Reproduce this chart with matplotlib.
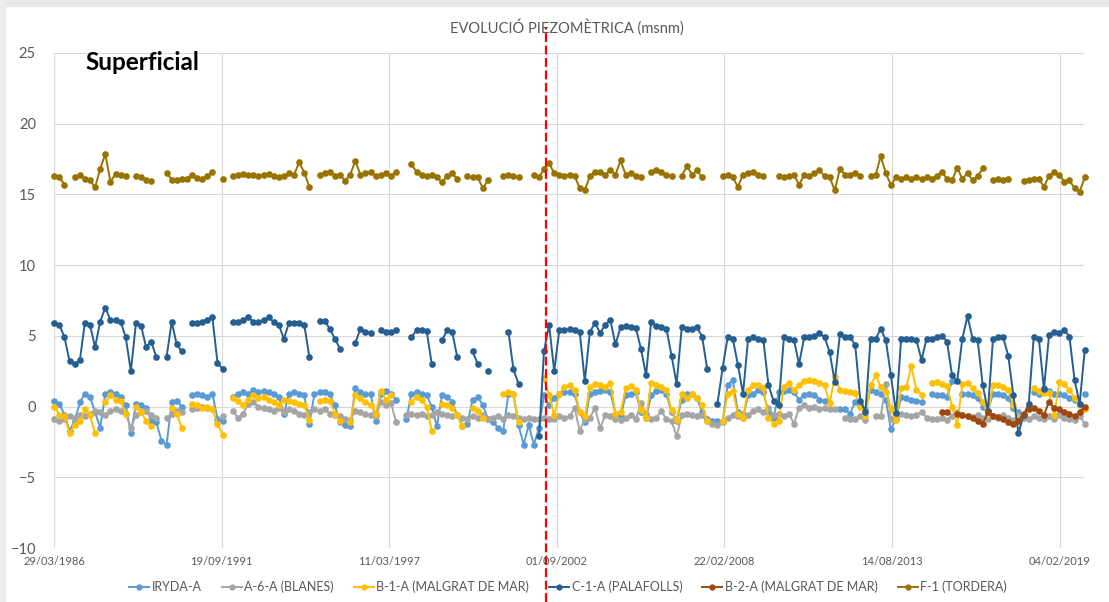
import numpy as np
import pandas as pd
import matplotlib
matplotlib.use("Agg")
import matplotlib.pyplot as plt
from matplotlib.lines import Line2D
from matplotlib.patches import Rectangle

plt.rcParams["font.family"] = ["Lato", "DejaVu Sans"]

nan = np.nan

# bi-monthly readings (Feb, Apr, Jun, Aug, Oct, Dec), one row per year 1986-2019
months = [2, 4, 6, 8, 10, 12]
years = list(range(1986, 2020))

iryda_a = [
    [nan, 0.4, 0.2, -0.6, -1.7, -1.0],
    [0.3, 0.9, 0.7, -0.4, -1.5, 0.9],
    [1.0, 0.9, 0.7, 0.1, -1.9, 0.2],
    [0.1, -0.1, -1.0, -1.1, -2.4, -2.7],
    [0.3, 0.4, 0.0, nan, 0.8, 0.9],
    [0.8, 0.7, 0.9, -0.85, -1.05, nan],
    [0.7, 0.9, 1.0, 0.9, 1.15, 1.0],
    [1.1, 1.0, 0.9, 0.7, -0.5, 0.9],
    [1.0, 0.9, 0.8, -1.2, 0.9, 1.0],
    [1.0, 0.9, 0.1, -1.1, -1.3, -1.4],
    [1.3, 1.0, 0.9, 0.9, -1.0, 0.9],
    [1.1, 0.9, 0.5, nan, -0.9, 0.9],
    [1.0, 0.9, 0.8, 0.0, -1.4, 0.8],
    [0.7, 0.35, -0.6, -1.4, -1.2, 0.5],
    [0.7, 0.1, -0.85, -1.1, -1.5, -1.7],
    [0.9, 0.9, -1.3, -2.7, -1.3, -2.7],
    [-1.5, 0.8, 0.1, 0.6, 0.9, 1.0],
    [1.0, 0.9, -0.4, -1.1, 0.9, 1.0],
    [1.1, 1.2, 1.0, -0.5, -0.7, 0.8],
    [0.9, 1.0, -0.4, -0.8, 0.8, 1.1],
    [1.2, 0.9, -0.4, -1.0, 0.5, 0.9],
    [0.9, 0.6, -0.4, -0.85, -1.0, -1.05],
    [-1.0, 1.5, 1.9, -0.4, -0.8, 0.8],
    [0.9, 1.2, 1.0, -0.4, -0.8, 1.0],
    [1.1, 1.2, 1.0, 0.5, 0.8, 0.9],
    [0.8, 0.5, 0.4, nan, nan, -0.2],
    [-0.2, -0.5, 0.35, 0.2, -0.2, 1.2],
    [1.0, 0.9, 0.45, -1.6, -0.9, 0.7],
    [0.6, 0.5, 0.4, 0.35, nan, 0.9],
    [0.8, 0.8, 0.7, 1.8, nan, 0.9],
    [0.9, 0.8, 0.6, 0.0, -0.3, 0.9],
    [0.9, 0.8, 0.6, -0.1, -0.35, nan],
    [nan, 1.0, 0.9, 1.3, 1.1, 0.9],
    [0.9, 0.8, 0.6, 0.45, nan, 0.9],
]

a6a_blanes = [
    [nan, -0.9, -1.0, -0.9, -0.7, -0.8],
    [-0.6, -0.7, -0.5, -0.3, -0.4, -0.6],
    [-0.3, -0.2, -0.3, -0.5, -1.5, -0.6],
    [-0.4, -0.3, -0.6, -0.8, nan, -0.8],
    [-0.5, -0.3, -0.4, nan, -0.2, -0.1],
    [0.0, -0.1, -0.2, nan, -0.7, nan],
    [-0.3, -0.8, -0.5, 0.2, 0.3, 0.0],
    [-0.1, -0.2, -0.3, -0.1, -0.4, -0.2],
    [-0.3, -0.5, -0.6, -0.4, -0.2, -0.3],
    [-0.2, -0.5, -0.6, -0.7, -0.9, -0.95],
    [-0.3, -0.4, -0.5, -0.6, -0.7, 0.3],
    [0.1, 0.25, -1.1, nan, -0.6, -0.5],
    [-0.6, -0.5, -0.7, -0.6, -0.4, -0.5],
    [-0.6, -0.7, -0.6, -0.8, -0.9, -0.7],
    [-0.8, -0.6, -0.9, -0.8, -0.7, -0.9],
    [-0.6, -0.7, -0.8, -0.9, -0.8, -0.9],
    [-0.9, -0.8, -0.85, -0.9, -0.7, -0.8],
    [-0.7, -0.1, -1.7, -0.9, -0.8, -0.1],
    [-1.5, -0.6, -0.7, -0.9, -0.95, -0.8],
    [-0.6, -0.9, 0.25, -0.5, -0.9, -0.8],
    [-0.3, -0.9, -1.0, -2.1, -0.6, -0.5],
    [-0.6, -0.7, -0.6, -1.0, -1.2, -1.3],
    [-1.1, -0.8, -0.6, -0.7, -0.5, -0.6],
    [-0.3, -0.2, -0.4, -0.1, -0.6, -0.5],
    [-0.7, -0.5, -1.2, -0.1, 0.1, -0.1],
    [0.0, -0.2, -0.1, -0.2, -0.15, nan],
    [-0.8, -0.9, -0.85, -0.7, -0.95, nan],
    [-0.7, -0.7, 1.6, -0.85, -0.85, -0.5],
    [-0.6, -0.7, -0.6, -0.35, -0.8, -0.9],
    [-0.9, -0.8, -0.95, -0.7, -0.4, -0.6],
    [-0.7, -0.75, -0.6, -0.8, -0.9, -0.7],
    [-0.8, -0.6, -0.8, -0.95, -0.7, -0.8],
    [-0.9, -0.7, -0.8, -0.85, -0.7, -0.9],
    [-0.6, -0.8, -0.9, -0.95, -0.7, -1.2],
]

b1a_malgrat = [
    [nan, 0.0, -0.6, -0.7, -1.9, -1.3],
    [-1.0, -0.2, -0.6, -1.9, nan, 0.3],
    [0.8, 0.5, 0.4, -0.5, nan, 0.0],
    [-0.4, -1.0, -1.4, nan, nan, nan],
    [-0.1, -0.5, -1.5, nan, 0.2, 0.1],
    [-0.1, 0.0, -0.2, -1.2, -2.0, nan],
    [0.6, 0.4, 0.1, 0.5, 0.8, 0.6],
    [0.7, 0.5, 0.3, 0.1, 0.5, 0.4],
    [0.3, 0.2, 0.1, -0.95, nan, 0.4],
    [0.5, 0.4, -0.5, -1.0, nan, -1.1],
    [0.8, 0.6, 0.3, 0.1, -0.5, 1.1],
    [0.5, 0.8, nan, nan, nan, 0.3],
    [0.7, 0.5, 0.0, -1.7, nan, 0.2],
    [0.1, -0.1, -0.6, -1.4, nan, -0.1],
    [-0.3, -0.8, nan, nan, nan, 0.9],
    [1.0, 0.9, -1.1, nan, nan, nan],
    [nan, 2.0, 0.8, -0.6, 0.9, 1.4],
    [1.5, 1.2, -0.4, -0.7, 1.4, 1.6],
    [1.5, 1.4, 1.7, -0.5, -0.4, 1.3],
    [1.45, 1.2, -0.25, -0.8, 1.7, 1.5],
    [1.4, 1.2, -0.25, -0.95, 0.9, 0.6],
    [0.9, 0.6, 0.1, -1.05, nan, nan],
    [-1.05, 0.9, 1.1, -0.5, -0.8, 1.2],
    [1.5, 1.55, 1.3, -0.8, -1.2, -1.0],
    [1.4, 1.65, 1.2, 1.5, 1.8, 1.9],
    [1.8, 1.7, 1.5, 0.25, 2.1, 1.2],
    [1.1, 1.0, 0.95, 0.0, -0.7, 1.5],
    [2.2, 1.4, 1.05, -0.1, -0.95, 1.3],
    [1.4, 2.85, 1.2, 0.85, nan, 1.7],
    [1.75, 1.6, 1.45, 0.0, -1.3, 1.6],
    [1.65, 1.3, 0.95, 0.3, -0.5, 1.5],
    [1.55, 1.4, 1.2, 0.1, -0.8, nan],
    [nan, 1.3, 1.1, 0.95, 0.95, -0.6],
    [1.75, 1.6, 1.2, 0.6, 0.1, -0.2],
]

c1a_palafolls = [
    [nan, 5.9, 5.8, 4.9, 3.2, 3.0],
    [3.3, 5.9, 5.8, 4.2, 6.0, 7.0],
    [6.1, 6.1, 6.0, 4.9, 2.5, 5.9],
    [5.7, 4.2, 4.6, 3.5, nan, 3.5],
    [6.0, 4.4, 3.9, nan, 5.9, 5.9],
    [6.0, 6.1, 6.3, 3.1, 2.65, nan],
    [6.0, 6.0, 6.1, 6.3, 6.0, 6.0],
    [6.1, 6.3, 6.0, 5.8, 4.8, 5.9],
    [5.9, 5.9, 5.8, 3.5, nan, 6.05],
    [6.05, 5.5, 4.8, 4.1, nan, nan],
    [4.5, 5.5, 5.3, 5.2, nan, 5.4],
    [5.3, 5.3, 5.4, nan, nan, 4.9],
    [5.4, 5.4, 5.35, 3.0, nan, 4.7],
    [5.4, 5.3, 3.5, nan, nan, 3.9],
    [3.0, nan, 2.5, nan, nan, nan],
    [5.3, 2.65, 1.6, nan, nan, nan],
    [-2.1, 3.9, 5.8, 2.5, 5.4, 5.4],
    [5.5, 5.4, 5.3, 1.8, 5.3, 5.9],
    [5.2, 5.8, 6.1, 4.4, 5.6, 5.7],
    [5.6, 5.55, 4.1, 2.2, 6.0, 5.7],
    [5.6, 5.5, 3.6, 1.6, 5.6, 5.5],
    [5.5, 5.6, 4.95, 2.65, nan, 0.2],
    [2.75, 4.9, 4.8, 2.95, 0.9, 4.8],
    [4.9, 4.8, 4.7, 1.5, 0.4, 0.1],
    [4.9, 4.8, 4.7, 3.0, 4.9, 4.9],
    [5.0, 5.2, 4.9, 3.85, 1.75, 5.1],
    [4.9, 4.9, 4.35, 0.4, -0.35, 4.8],
    [4.8, 5.5, 4.7, 2.2, -0.45, 4.8],
    [4.8, 4.75, 4.7, 3.3, 4.8, 4.8],
    [4.9, 5.0, 4.6, 2.2, 1.8, 4.8],
    [6.4, 4.8, 4.7, 1.5, -0.3, 4.8],
    [4.95, 4.9, 3.6, 0.8, -1.9, -0.6],
    [0.2, 4.9, 4.8, 1.25, 5.05, 5.3],
    [5.2, 5.4, 4.95, 1.9, 0.2, 4.0],
]

# B-2-A only measured from 2015
b2a_years = list(range(2015, 2020))
b2a_malgrat = [
    [nan, -0.35, -0.35, nan, -0.5, -0.6],
    [-0.7, -0.8, -1.0, -1.2, -0.4, -0.7],
    [-0.75, -0.9, -1.1, -1.2, -1.0, -0.5],
    [-0.2, -0.1, -0.3, -0.6, 0.35, -0.1],
    [-0.2, -0.35, -0.5, -0.7, -0.4, 0.0],
]

f1_tordera = [
    [nan, 16.3, 16.2, 15.7, nan, 16.2],
    [16.4, 16.1, 16.0, 15.5, 16.8, 17.85],
    [15.9, 16.45, 16.35, 16.3, nan, 16.3],
    [16.2, 16.0, 15.95, nan, nan, 16.55],
    [16.05, 16.0, 16.1, 16.1, 16.4, 16.15],
    [16.1, 16.3, 16.6, nan, 16.1, nan],
    [16.3, 16.4, 16.45, 16.4, 16.35, 16.3],
    [16.4, 16.45, 16.3, 16.2, 16.3, 16.5],
    [16.4, 17.28, 16.55, 15.55, nan, 16.4],
    [16.5, 16.6, 16.3, 16.4, 15.97, 16.4],
    [17.37, 16.4, 16.5, 16.6, 16.3, 16.4],
    [16.5, 16.3, 16.6, nan, nan, 17.13],
    [16.6, 16.4, 16.3, 16.35, 16.2, 15.86],
    [16.3, 16.5, 16.1, nan, 16.3, 16.2],
    [16.2, 15.44, 16.0, nan, nan, 16.3],
    [16.4, 16.3, 16.2, nan, nan, 16.4],
    [16.2, 16.8, 17.2, 16.5, 16.4, 16.3],
    [16.4, 16.3, 15.45, 15.3, 16.3, 16.6],
    [16.6, 16.4, 16.7, 16.4, 17.4, 16.4],
    [16.5, 16.3, 16.2, nan, 16.6, 16.7],
    [16.6, 16.4, 16.3, nan, 16.3, 17.0],
    [16.4, 16.7, 16.2, nan, nan, nan],
    [16.3, 16.4, 16.2, 15.55, 16.4, 16.5],
    [16.6, 16.4, 16.3, nan, nan, 16.3],
    [16.2, 16.3, 16.4, 15.67, 16.4, 16.3],
    [16.5, 16.7, 16.3, 16.2, 15.3, 16.8],
    [16.4, 16.4, 16.5, 16.3, nan, 16.3],
    [16.4, 17.7, 16.5, 15.67, 16.2, 16.1],
    [16.2, 16.1, 16.2, 16.1, 16.2, 16.1],
    [16.3, 16.6, 16.1, 16.0, 16.9, 16.1],
    [16.5, 16.0, 16.3, 16.85, nan, 16.0],
    [16.1, 16.0, 16.1, nan, nan, 15.95],
    [16.0, 16.1, 16.1, 15.55, 16.3, 16.6],
    [16.4, 15.9, 16.0, 15.45, 15.2, 16.2],
]

series = [
    ("IRYDA-A", years, iryda_a, "#5B9BD5"),
    ("A-6-A (BLANES)", years, a6a_blanes, "#A5A5A5"),
    ("B-1-A (MALGRAT DE MAR)", years, b1a_malgrat, "#FFC000"),
    ("C-1-A (PALAFOLLS)", years, c1a_palafolls, "#255E91"),
    ("B-2-A (MALGRAT DE MAR)", b2a_years, b2a_malgrat, "#9E480E"),
    ("F-1 (TORDERA)", years, f1_tordera, "#997300"),
]

x_start = pd.Timestamp("1986-03-29")
x_end = x_start + pd.Timedelta(days=12291)
tick_dates = [x_start + pd.Timedelta(days=2000 * k) for k in range(7)]


def to_dates(yrs):
    return pd.to_datetime([f"{y}-{m:02d}-01" for y in yrs for m in months])


# %%
W, H = 1109, 602
fig = plt.figure(figsize=(W / 100, H / 100), dpi=100, facecolor="white")
ax = fig.add_axes([54 / W, 1 - 548 / H, 1030 / W, 495 / H])

handles = []
for name, yrs, rows, col in series:
    vals = np.array(rows, dtype=float).ravel()
    (ln,) = ax.plot(
        to_dates(yrs),
        vals,
        color=col,
        lw=1.4,
        marker="o",
        ms=4.8,
        mew=0,
        label=name,
        clip_on=False,
    )
    handles.append(ln)

ax.set_xlim(x_start, x_end)
ax.set_ylim(-10, 25)
ax.set_yticks(np.arange(-10, 26, 5))
ax.set_xticks(tick_dates)
ax.set_xticklabels([d.strftime("%d/%m/%Y") for d in tick_dates], fontsize=8)
ax.tick_params(axis="y", length=0, pad=13, labelsize=10.5, colors="#595959")
ax.tick_params(axis="x", length=0, pad=6, colors="#595959")
ax.grid(True, color="#D9D9D9", lw=0.8)
ax.set_axisbelow(True)
for s in ax.spines.values():
    s.set_visible(False)

fig.text(567 / W, 1 - 27 / H, "EVOLUCIÓ PIEZOMÈTRICA (msnm)", ha="center",
         va="center", fontsize=10.5, color="#595959")
fig.text(85 / W, 1 - 70 / H, "Superficial", ha="left", va="baseline",
         fontsize=17.5, fontweight="bold", color="black")

leg = fig.legend(handles=handles, loc="center", bbox_to_anchor=(568 / W, 1 - 587 / H),
                 ncol=6, frameon=False, fontsize=9, labelcolor="#595959",
                 handlelength=1.6, handletextpad=0.2, columnspacing=1.6,
                 numpoints=1)
for h in leg.legend_handles:
    h.set_markersize(4.5)

# screenshot frame
fig.patches.append(Rectangle((0, 1 - 6 / H), 1, 6 / H, transform=fig.transFigure,
                             color="#E8E8E8", zorder=0))
fig.patches.append(Rectangle((0, 0), 5 / W, 1, transform=fig.transFigure,
                             color="#EDEDED", zorder=0))

# red dashed marker line across the figure
fig.add_artist(Line2D([546 / W, 546 / W], [0, 1 - 27 / H], transform=fig.transFigure,
                      color="red", lw=1.6, dashes=(4, 1.6)))

fig.savefig("out.png", dpi=100, facecolor="white")
